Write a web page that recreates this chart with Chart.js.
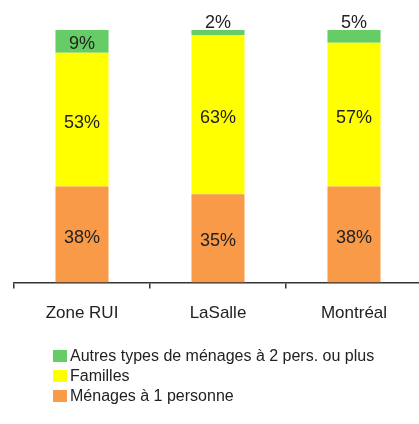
<!DOCTYPE html>
<html>
<head>
<meta charset="utf-8">
<script src="https://cdn.jsdelivr.net/npm/chart.js@4/dist/chart.umd.min.js"></script>
<style>
  html, body { margin: 0; padding: 0; background: #fff; overflow: hidden; }
  #wrap { position: relative; width: 424px; height: 424px; }
  #legend { position: absolute; left: 53px; top: 346px; font-family: "Liberation Sans", Arial, sans-serif; font-size: 16px; color: #222; }
  #legend div { height: 20px; line-height: 20px; white-space: nowrap; }
  #legend span { display: inline-block; width: 14px; height: 12px; margin-right: 3px; vertical-align: -1px; }
</style>
</head>
<body>
<div id="wrap">
  <canvas id="myChart" width="424" height="424"></canvas>
  <div id="legend"></div>
</div>
<script>
var categories = ['Zone RUI', 'LaSalle', 'Montréal'];
var seriesNames = ['Ménages à 1 personne', 'Familles', 'Autres types de ménages à 2 pers. ou plus'];
var unePersonne = [38, 35, 38];
var familles = [53, 63, 57];
var autres = [9, 2, 5];
var colors = ['#F99A48', '#FFFF00', '#66CC66'];

var font = '"Liberation Sans", Arial, sans-serif';

var valueLabels = {
    id: 'valueLabels',
    afterDatasetsDraw: function(chart) {
        var ctx = chart.ctx;
        ctx.save();
        ctx.font = '18px ' + font;
        ctx.fillStyle = '#222';
        ctx.textAlign = 'center';
        chart.data.datasets.forEach(function(ds, i) {
            var meta = chart.getDatasetMeta(i);
            meta.data.forEach(function(bar, j) {
                var v = ds.data[j];
                var h = Math.abs(bar.base - bar.y);
                if (h < 18) {
                    ctx.textBaseline = 'bottom';
                    ctx.fillText(v + '%', bar.x, bar.y + 2);
                } else {
                    ctx.textBaseline = 'middle';
                    ctx.fillText(v + '%', bar.x, (bar.y + bar.base) / 2 + 3);
                }
            });
        });
        ctx.restore();
    }
};

var ctx = document.getElementById('myChart').getContext('2d');
var myChart = new Chart(ctx, {
    type: 'bar',
    data: {
        labels: categories,
        datasets: [
            { label: seriesNames[0], data: unePersonne, backgroundColor: colors[0] },
            { label: seriesNames[1], data: familles, backgroundColor: colors[1] },
            { label: seriesNames[2], data: autres, backgroundColor: colors[2] }
        ]
    },
    options: {
        responsive: false,
        animation: false,
        categoryPercentage: 1,
        barPercentage: 0.39,
        layout: { padding: { left: 14, right: 2, top: 30, bottom: 85 } },
        plugins: { legend: { display: false }, tooltip: { enabled: false } },
        scales: {
            x: {
                stacked: true,
                grid: { display: true, drawOnChartArea: false, offset: true, tickLength: 6, color: '#333', lineWidth: 1.5 },
                border: { display: true, color: '#333', width: 1.5 },
                ticks: { color: '#222', font: { family: font, size: 17 }, padding: 15 }
            },
            y: {
                stacked: true,
                display: false,
                min: 0,
                max: 100
            }
        }
    },
    plugins: [valueLabels]
});

var legend = document.getElementById('legend');
for (var i = seriesNames.length - 1; i >= 0; i--) {
    var row = document.createElement('div');
    row.innerHTML = '<span style="background:' + colors[i] + '"></span>' + seriesNames[i];
    legend.appendChild(row);
}
</script>
</body>
</html>
